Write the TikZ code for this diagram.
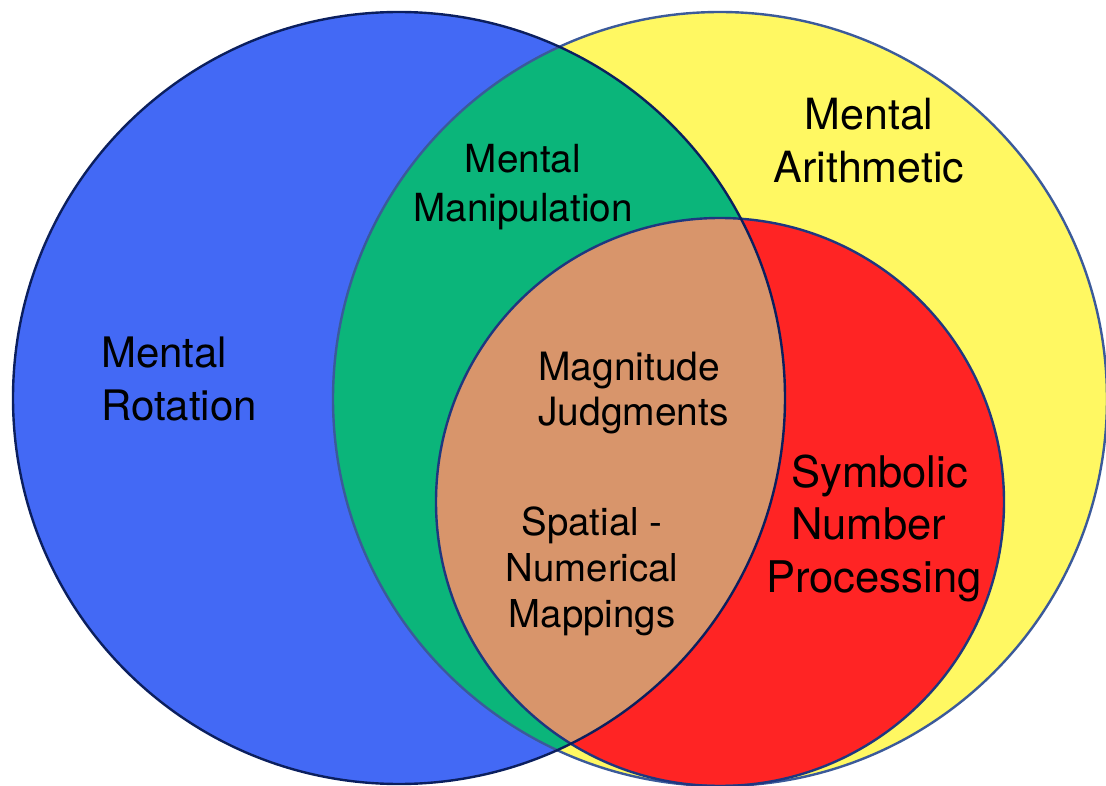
\documentclass[tikz,border=0pt]{standalone}
\usepackage{fontspec}
\setmainfont{TeX Gyre Heros}
\definecolor{blueF}{HTML}{4369F5}
\definecolor{greenF}{HTML}{0BB57A}
\definecolor{yellowF}{HTML}{FFF862}
\definecolor{redF}{HTML}{FF2424}
\definecolor{orangeF}{HTML}{D8956B}
\definecolor{navyL}{HTML}{0B1F5E}
\definecolor{blueL}{HTML}{3B5A9A}
\definecolor{redL}{HTML}{1E3780}
\tikzset{
  ring/.style={line width=2.4pt},
  lbl/.style={inner sep=0pt, text=black},
}
\begin{document}
\begin{tikzpicture}[x=1pt,y=-1pt]
\useasboundingbox (0,0) rectangle (1106,786);
\coordinate (B) at (399,398);
\coordinate (Y) at (720,399);
\coordinate (R) at (720,502);
% fills
\fill[blueF] (B) circle[radius=386pt];
\fill[yellowF] (Y) circle[radius=387pt];
\begin{scope}
  \clip (B) circle[radius=386pt];
  \fill[greenF] (Y) circle[radius=387pt];
\end{scope}
\fill[redF] (R) circle[radius=284pt];
\begin{scope}
  \clip (B) circle[radius=386pt];
  \fill[orangeF] (R) circle[radius=284pt];
\end{scope}
% outlines
\draw[ring, blueL] (Y) circle[radius=387pt];
\draw[ring, redL] (R) circle[radius=284pt];
\draw[ring, navyL] (B) circle[radius=386pt];
% labels (anchored at the baseline of the last line)
\node[lbl, anchor=base west, align=left, font=\fontsize{42}{53}\selectfont] (rot) at (101,420) {Mental\\Rotation};
\node[lbl, anchor=base, align=center, font=\fontsize{43}{53}\selectfont] (ari) at (869,183) {Mental\\Arithmetic};
\node[lbl, anchor=base, align=center, font=\fontsize{38.7}{49}\selectfont] (man) at (523,222) {Mental\\Manipulation};
\node[lbl, anchor=base west, align=left, font=\fontsize{39}{45}\selectfont] (mag) at (538,425) {Magnitude\\Judgments};
\node[lbl, anchor=base, align=center, font=\fontsize{38.4}{46}\selectfont] (spa) at (592,627) {Spatial -\\Numerical\\Mappings};
\node[lbl, anchor=base west, align=left, font=\fontsize{43.6}{52.5}\selectfont] (sym) at (766,592) {\hspace*{25pt}Symbolic\\\hspace*{25pt}Number\\Processing};
\end{tikzpicture}
\end{document}
